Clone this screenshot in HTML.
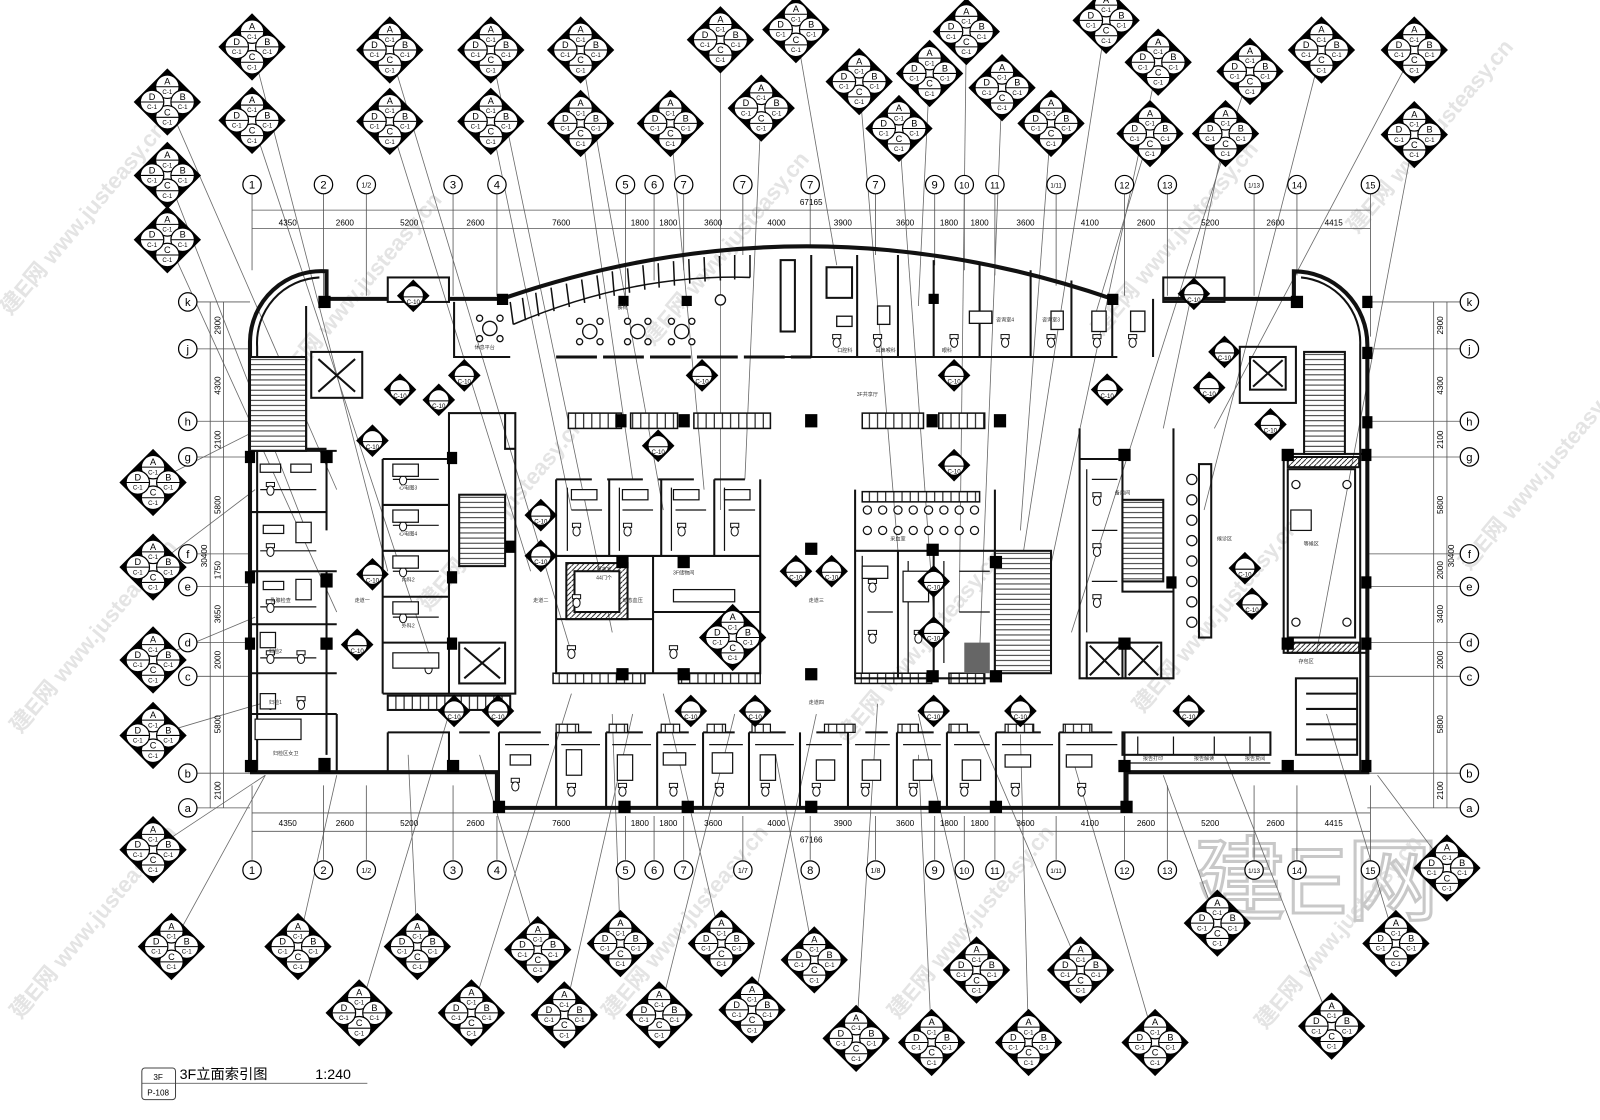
<!DOCTYPE html>
<html><head><meta charset="utf-8">
<style>
html,body{margin:0;padding:0;background:#fff;}
svg{display:block;}
text{font-family:"Liberation Sans","Noto Sans CJK SC",sans-serif;}
</style></head>
<body>
<svg width="1600" height="1120" viewBox="0 0 1568 1098" preserveAspectRatio="none" xmlns="http://www.w3.org/2000/svg">
<defs>
<g id="dm">
<polygon points="0,-33 33,0 0,33 -33,0" fill="#000"/>
<rect x="-6" y="-6" width="12" height="12" fill="#fff" transform="rotate(45)"/>
<g fill="#fff" stroke="#000" stroke-width="1.2">
<circle cx="0" cy="-15" r="11.5"/><circle cx="15" cy="0" r="11.5"/><circle cx="0" cy="15" r="11.5"/><circle cx="-15" cy="0" r="11.5"/>
</g>
<g stroke="#000" stroke-width="1"><line x1="-11" y1="-15" x2="11" y2="-15"/><line x1="4" y1="0" x2="26" y2="0"/><line x1="-11" y1="15" x2="11" y2="15"/><line x1="-26" y1="0" x2="-4" y2="0"/></g>
<g font-size="9" text-anchor="middle"><text x="0" y="-17">A</text><text x="15" y="-2">B</text><text x="0" y="13">C</text><text x="-15" y="-2">D</text></g>
<g font-size="6" text-anchor="middle"><text x="0" y="-8">C-1</text><text x="15" y="7">C-1</text><text x="0" y="22">C-1</text><text x="-15" y="7">C-1</text></g>
</g>
<g id="mk">
<polygon points="0,-16 16,0 0,16 -16,0" fill="#000"/>
<circle r="10" fill="#fff" stroke="#000" stroke-width="1.2"/>
<line x1="-10" y1="1" x2="10" y2="1" stroke="#000" stroke-width="1"/>
<text y="8" font-size="6" text-anchor="middle">C-10</text>
</g>
<g id="wc"><rect x="-4" y="-7" width="8" height="4" fill="#fff" stroke="#111" stroke-width="1"/><ellipse cx="0" cy="1" rx="3.5" ry="4.5" fill="#fff" stroke="#111" stroke-width="1"/></g>
<pattern id="tread" width="6" height="5" patternUnits="userSpaceOnUse"><rect width="6" height="5" fill="#fff"/><line x1="0" y1="2.5" x2="6" y2="2.5" stroke="#000" stroke-width="0.8"/></pattern>
<pattern id="bench" width="8" height="8" patternUnits="userSpaceOnUse"><rect width="8" height="8" fill="#fff"/><line x1="4" y1="0" x2="4" y2="8" stroke="#000" stroke-width="1"/></pattern>
<pattern id="hatch" width="5" height="5" patternUnits="userSpaceOnUse"><line x1="0" y1="5" x2="5" y2="0" stroke="#000" stroke-width="0.8"/></pattern>
</defs>

<g fill="#e4e4e4" font-size="22" font-weight="bold">
<text transform="translate(10,310) rotate(-50)">建E网 www.justeasy.cn</text>
<text transform="translate(20,720) rotate(-50)">建E网 www.justeasy.cn</text>
<text transform="translate(20,1000) rotate(-50)">建E网 www.justeasy.cn</text>
<text transform="translate(280,380) rotate(-50)">建E网 www.justeasy.cn</text>
<text transform="translate(420,600) rotate(-50)">建E网 www.justeasy.cn</text>
<text transform="translate(640,340) rotate(-50)">建E网 www.justeasy.cn</text>
<text transform="translate(830,730) rotate(-50)">建E网 www.justeasy.cn</text>
<text transform="translate(880,1000) rotate(-50)">建E网 www.justeasy.cn</text>
<text transform="translate(1080,330) rotate(-50)">建E网 www.justeasy.cn</text>
<text transform="translate(1120,700) rotate(-50)">建E网 www.justeasy.cn</text>
<text transform="translate(1240,1010) rotate(-50)">建E网 www.justeasy.cn</text>
<text transform="translate(1330,230) rotate(-50)">建E网 www.justeasy.cn</text>
<text transform="translate(1440,560) rotate(-50)">建E网 www.justeasy.cn</text>
<text transform="translate(600,1000) rotate(-50)">建E网 www.justeasy.cn</text>
</g>
<text x="1170" y="895" font-size="90" fill="none" stroke="#c8c8c8" stroke-width="3">建E网</text>

<g stroke="#6a6a6a" stroke-width="0.8">
<line x1="247" y1="46" x2="380" y2="560"/><line x1="164" y1="100" x2="330" y2="480"/><line x1="247" y1="118" x2="420" y2="640"/>
<line x1="164" y1="172" x2="300" y2="520"/><line x1="164" y1="235" x2="330" y2="600"/><line x1="382" y1="49" x2="560" y2="640"/>
<line x1="382" y1="119" x2="520" y2="560"/><line x1="481" y1="49" x2="600" y2="620"/><line x1="481" y1="119" x2="560" y2="500"/>
<line x1="569" y1="49" x2="650" y2="500"/><line x1="569" y1="121" x2="620" y2="470"/><line x1="657" y1="121" x2="690" y2="480"/>
<line x1="706" y1="39" x2="706" y2="500"/><line x1="780" y1="29" x2="820" y2="260"/><line x1="746" y1="106" x2="730" y2="470"/>
<line x1="842" y1="80" x2="880" y2="540"/><line x1="911" y1="72" x2="900" y2="300"/><line x1="881" y1="126" x2="915" y2="600"/>
<line x1="947" y1="31" x2="940" y2="600"/><line x1="982" y1="86" x2="960" y2="640"/><line x1="1030" y1="121" x2="1000" y2="520"/>
<line x1="1084" y1="20" x2="1000" y2="560"/><line x1="1135" y1="61" x2="1020" y2="600"/><line x1="1127" y1="131" x2="1070" y2="320"/>
<line x1="1225" y1="70" x2="1050" y2="620"/><line x1="1201" y1="131" x2="1140" y2="420"/><line x1="1295" y1="49" x2="1180" y2="500"/>
<line x1="1386" y1="49" x2="1190" y2="420"/><line x1="1386" y1="132" x2="1290" y2="640"/>
<line x1="150" y1="473" x2="255" y2="420"/><line x1="150" y1="556" x2="250" y2="480"/><line x1="150" y1="647" x2="250" y2="605"/>
<line x1="150" y1="721" x2="255" y2="690"/><line x1="150" y1="833" x2="260" y2="760"/>
<line x1="168" y1="928" x2="260" y2="760"/><line x1="292" y1="928" x2="330" y2="760"/><line x1="409" y1="928" x2="400" y2="740"/>
<line x1="527" y1="931" x2="470" y2="740"/><line x1="608" y1="925" x2="600" y2="700"/><line x1="707" y1="925" x2="650" y2="680"/>
<line x1="798" y1="941" x2="760" y2="740"/><line x1="957" y1="951" x2="900" y2="700"/><line x1="1059" y1="951" x2="960" y2="720"/>
<line x1="1193" y1="905" x2="1140" y2="760"/><line x1="1368" y1="925" x2="1300" y2="700"/><line x1="352" y1="993" x2="440" y2="700"/>
<line x1="462" y1="993" x2="560" y2="680"/><line x1="553" y1="995" x2="620" y2="700"/><line x1="646" y1="995" x2="720" y2="700"/>
<line x1="737" y1="990" x2="800" y2="700"/><line x1="839" y1="1018" x2="860" y2="690"/><line x1="913" y1="1022" x2="900" y2="740"/>
<line x1="1008" y1="1022" x2="1000" y2="720"/><line x1="1132" y1="1022" x2="1050" y2="740"/><line x1="1305" y1="1006" x2="1200" y2="740"/>
<line x1="1418" y1="851" x2="1350" y2="760"/>
</g>

<g stroke="#555" stroke-width="0.8" fill="none">
<path d="M247 190V265M317 190V290M359 190V290M444 190V290M487 190V290M613 190V290M641 190V275M670 190V265M728 190V250M794 190V240M858 190V250M916 190V260M945 190V265M975 190V270M1035 190V280M1102 190V290M1144 190V290M1229 190V290M1271 190V270M1343 190V330"/>
<path d="M247 770V843M317 770V843M359 770V843M444 770V843M487 800V843M613 800V843M641 800V843M670 800V843M728 800V843M794 800V843M858 800V843M916 800V843M945 800V843M975 800V843M1035 800V843M1102 800V843M1144 770V843M1229 770V843M1271 770V843M1343 770V843"/>
<line x1="247" y1="206" x2="1343" y2="206"/><line x1="247" y1="224" x2="1343" y2="224"/>
<line x1="247" y1="797" x2="1343" y2="797"/><line x1="247" y1="815" x2="1343" y2="815"/>
<line x1="206" y1="296" x2="206" y2="792"/><line x1="219" y1="296" x2="219" y2="792"/>
<line x1="1405" y1="296" x2="1405" y2="792"/><line x1="1418" y1="296" x2="1418" y2="792"/>
<path d="M193 296H245M193 342H245M193 413H245M193 448H245M193 543H245M193 575H245M193 630H245M193 663H245M193 758H245M193 792H245"/>
<path d="M1340 296H1431M1340 342H1431M1340 413H1431M1340 448H1431M1340 543H1431M1340 575H1431M1340 630H1431M1340 663H1431M1340 758H1431M1340 792H1431"/>
</g>
<g font-size="8" text-anchor="middle">
<text x="795" y="201">67165</text><text x="795" y="826">67166</text>
<text x="282" y="221">4350</text><text x="338" y="221">2600</text><text x="401" y="221">5200</text><text x="466" y="221">2600</text><text x="550" y="221">7600</text><text x="627" y="221">1800</text><text x="655" y="221">1800</text><text x="699" y="221">3600</text><text x="761" y="221">4000</text><text x="826" y="221">3900</text><text x="887" y="221">3600</text><text x="930" y="221">1800</text><text x="960" y="221">1800</text><text x="1005" y="221">3600</text><text x="1068" y="221">4100</text><text x="1123" y="221">2600</text><text x="1186" y="221">5200</text><text x="1250" y="221">2600</text><text x="1307" y="221">4415</text>
<text x="282" y="810">4350</text><text x="338" y="810">2600</text><text x="401" y="810">5200</text><text x="466" y="810">2600</text><text x="550" y="810">7600</text><text x="627" y="810">1800</text><text x="655" y="810">1800</text><text x="699" y="810">3600</text><text x="761" y="810">4000</text><text x="826" y="810">3900</text><text x="887" y="810">3600</text><text x="930" y="810">1800</text><text x="960" y="810">1800</text><text x="1005" y="810">3600</text><text x="1068" y="810">4100</text><text x="1123" y="810">2600</text><text x="1186" y="810">5200</text><text x="1250" y="810">2600</text><text x="1307" y="810">4415</text>
</g>
<g font-size="8" text-anchor="middle">
<text transform="translate(216,319) rotate(-90)">2900</text><text transform="translate(216,378) rotate(-90)">4300</text><text transform="translate(216,431) rotate(-90)">2100</text><text transform="translate(216,495) rotate(-90)">5800</text><text transform="translate(216,559) rotate(-90)">1750</text><text transform="translate(216,602) rotate(-90)">3650</text><text transform="translate(216,647) rotate(-90)">2000</text><text transform="translate(216,710) rotate(-90)">5800</text><text transform="translate(216,775) rotate(-90)">2100</text><text transform="translate(203,545) rotate(-90)">30400</text>
<text transform="translate(1414,319) rotate(-90)">2900</text><text transform="translate(1414,378) rotate(-90)">4300</text><text transform="translate(1414,431) rotate(-90)">2100</text><text transform="translate(1414,495) rotate(-90)">5800</text><text transform="translate(1414,559) rotate(-90)">2000</text><text transform="translate(1414,602) rotate(-90)">3400</text><text transform="translate(1414,647) rotate(-90)">2000</text><text transform="translate(1414,710) rotate(-90)">5800</text><text transform="translate(1414,775) rotate(-90)">2100</text><text transform="translate(1425,545) rotate(-90)">30400</text>
</g>

<g fill="#fff" stroke="#000" stroke-width="1.2">
<circle cx="247" cy="181" r="9"/><circle cx="317" cy="181" r="9"/><circle cx="359" cy="181" r="9"/><circle cx="444" cy="181" r="9"/><circle cx="487" cy="181" r="9"/><circle cx="613" cy="181" r="9"/><circle cx="641" cy="181" r="9"/><circle cx="670" cy="181" r="9"/><circle cx="728" cy="181" r="9"/><circle cx="794" cy="181" r="9"/><circle cx="858" cy="181" r="9"/><circle cx="916" cy="181" r="9"/><circle cx="945" cy="181" r="9"/><circle cx="975" cy="181" r="9"/><circle cx="1035" cy="181" r="9"/><circle cx="1102" cy="181" r="9"/><circle cx="1144" cy="181" r="9"/><circle cx="1229" cy="181" r="9"/><circle cx="1271" cy="181" r="9"/><circle cx="1343" cy="181" r="9"/>
<circle cx="247" cy="853" r="9"/><circle cx="317" cy="853" r="9"/><circle cx="359" cy="853" r="9"/><circle cx="444" cy="853" r="9"/><circle cx="487" cy="853" r="9"/><circle cx="613" cy="853" r="9"/><circle cx="641" cy="853" r="9"/><circle cx="670" cy="853" r="9"/><circle cx="728" cy="853" r="9"/><circle cx="794" cy="853" r="9"/><circle cx="858" cy="853" r="9"/><circle cx="916" cy="853" r="9"/><circle cx="945" cy="853" r="9"/><circle cx="975" cy="853" r="9"/><circle cx="1035" cy="853" r="9"/><circle cx="1102" cy="853" r="9"/><circle cx="1144" cy="853" r="9"/><circle cx="1229" cy="853" r="9"/><circle cx="1271" cy="853" r="9"/><circle cx="1343" cy="853" r="9"/>
<circle cx="184" cy="296" r="9"/><circle cx="184" cy="342" r="9"/><circle cx="184" cy="413" r="9"/><circle cx="184" cy="448" r="9"/><circle cx="184" cy="543" r="9"/><circle cx="184" cy="575" r="9"/><circle cx="184" cy="630" r="9"/><circle cx="184" cy="663" r="9"/><circle cx="184" cy="758" r="9"/><circle cx="184" cy="792" r="9"/>
<circle cx="1440" cy="296" r="9"/><circle cx="1440" cy="342" r="9"/><circle cx="1440" cy="413" r="9"/><circle cx="1440" cy="448" r="9"/><circle cx="1440" cy="543" r="9"/><circle cx="1440" cy="575" r="9"/><circle cx="1440" cy="630" r="9"/><circle cx="1440" cy="663" r="9"/><circle cx="1440" cy="758" r="9"/><circle cx="1440" cy="792" r="9"/>
</g>
<g font-size="11" text-anchor="middle">
<text x="247" y="185">1</text><text x="317" y="185">2</text><text x="359" y="184" font-size="7">1/2</text><text x="444" y="185">3</text><text x="487" y="185">4</text><text x="613" y="185">5</text><text x="641" y="185">6</text><text x="670" y="185">7</text><text x="728" y="185">7</text><text x="794" y="185">7</text><text x="858" y="185">7</text><text x="916" y="185">9</text><text x="945" y="185" font-size="9">10</text><text x="975" y="185" font-size="9">11</text><text x="1035" y="184" font-size="6">1/11</text><text x="1102" y="185" font-size="9">12</text><text x="1144" y="185" font-size="9">13</text><text x="1229" y="184" font-size="6">1/13</text><text x="1271" y="185" font-size="9">14</text><text x="1343" y="185" font-size="9">15</text>
<text x="247" y="857">1</text><text x="317" y="857">2</text><text x="359" y="856" font-size="7">1/2</text><text x="444" y="857">3</text><text x="487" y="857">4</text><text x="613" y="857">5</text><text x="641" y="857">6</text><text x="670" y="857">7</text><text x="728" y="856" font-size="7">1/7</text><text x="794" y="857">8</text><text x="858" y="856" font-size="7">1/8</text><text x="916" y="857">9</text><text x="945" y="857" font-size="9">10</text><text x="975" y="857" font-size="9">11</text><text x="1035" y="856" font-size="6">1/11</text><text x="1102" y="857" font-size="9">12</text><text x="1144" y="857" font-size="9">13</text><text x="1229" y="856" font-size="6">1/13</text><text x="1271" y="857" font-size="9">14</text><text x="1343" y="857" font-size="9">15</text>
<text x="184" y="300">k</text><text x="184" y="346">j</text><text x="184" y="417">h</text><text x="184" y="452">g</text><text x="184" y="547">f</text><text x="184" y="579">e</text><text x="184" y="634">d</text><text x="184" y="667">c</text><text x="184" y="762">b</text><text x="184" y="796">a</text>
<text x="1440" y="300">k</text><text x="1440" y="346">j</text><text x="1440" y="417">h</text><text x="1440" y="452">g</text><text x="1440" y="547">f</text><text x="1440" y="579">e</text><text x="1440" y="634">d</text><text x="1440" y="667">c</text><text x="1440" y="762">b</text><text x="1440" y="796">a</text>
</g>

<!-- PLAN -->
<g fill="none" stroke="#111" stroke-width="4">
<path d="M245 757 V335 A70 70 0 0 1 320 266 V293 H380 M440 293 H492"/>
<path d="M492 293 Q790 190 1090 293"/>
<path d="M1140 293 H1268 V266 A72 72 0 0 1 1340 338 V757 H1104 V792 H487 V757 H245"/>
</g>
<g fill="none" stroke="#111" stroke-width="2">
<path d="M252 757 V340 A64 64 0 0 1 313 272"/>
<path d="M1275 272 A64 64 0 0 1 1333 338 V757"/>
<rect x="380" y="272" width="60" height="24"/><rect x="1140" y="272" width="60" height="24"/>
</g>
<g stroke="#111" stroke-width="1.5" fill="#fff">
<path d="M500 296 L503 318 M512 292 L515 314 M525 287 L528 310 M540 282 L543 305 M555 278 L558 301 M570 274 L573 297 M585 270 L588 293 M600 266 L602 290 M615 263 L617 287 M630 260 L632 284 M645 258 L646 282 M660 256 L661 280 M675 254 L676 278 M690 252 L691 276 M705 251 L706 275 M720 250 L720 274 M735 250 L735 272" fill="none"/>
<path d="M503 318 Q620 268 735 272" fill="none"/>
</g>
<g stroke="#111" stroke-width="2" fill="none">
<rect x="245" y="350" width="55" height="92" fill="url(#tread)"/>
<rect x="305" y="345" width="50" height="45"/><path d="M312 352 L348 384 M348 352 L312 384"/>
<path d="M300 300 V440 H320 M245 442 H330 M245 502 H320 M245 560 H330 M245 612 H330 M245 660 H330 M245 700 H330"/>
<path d="M320 442 V520 M320 560 V740 M330 700 V757"/>
<path d="M375 450 H440 M375 495 H440 M375 540 H440 M375 585 H440 M375 630 H440 M375 680 H440 M375 450 V680"/>
<rect x="440" y="405" width="65" height="275"/>
<rect x="450" y="485" width="45" height="70" fill="url(#tread)"/>
<rect x="450" y="630" width="45" height="40"/><path d="M455 635 L490 665 M490 635 L455 665"/>
<path d="M495 405 V440 H505"/>
<rect x="380" y="682" width="120" height="14" fill="url(#bench)"/>
</g>
<g stroke="#111" stroke-width="2" fill="none">
<path d="M445 296 V350 H500"/>
<path d="M545 350 H795" stroke-width="3" stroke-dasharray="40 6"/>
<path d="M740 350 H1095 M795 250 V350 M840 250 V350 M880 250 V350 M915 255 V350 M960 258 V350 M1010 265 V350 M1050 275 V350 M1090 290 V350 M1130 293 V350"/>
<rect x="810" y="262" width="25" height="30"/><rect x="765" y="255" width="14" height="70"/>
</g>
<g fill="#fff" stroke="#111" stroke-width="1.3">
<circle cx="480" cy="322" r="7"/><circle cx="578" cy="325" r="7"/><circle cx="625" cy="325" r="7"/><circle cx="668" cy="325" r="7"/>
<circle cx="470" cy="312" r="3"/><circle cx="490" cy="312" r="3"/><circle cx="470" cy="332" r="3"/><circle cx="490" cy="332" r="3"/>
<circle cx="568" cy="315" r="3"/><circle cx="588" cy="315" r="3"/><circle cx="568" cy="335" r="3"/><circle cx="588" cy="335" r="3"/>
<circle cx="615" cy="315" r="3"/><circle cx="635" cy="315" r="3"/><circle cx="615" cy="335" r="3"/><circle cx="635" cy="335" r="3"/>
<circle cx="658" cy="315" r="3"/><circle cx="678" cy="315" r="3"/><circle cx="658" cy="335" r="3"/><circle cx="678" cy="335" r="3"/>
<circle cx="706" cy="294" r="5"/>
<rect x="820" y="310" width="15" height="10"/><rect x="860" y="300" width="12" height="18"/><rect x="950" y="305" width="22" height="12"/><rect x="1030" y="305" width="12" height="18"/><rect x="1070" y="305" width="14" height="20"/><rect x="1108" y="305" width="14" height="20"/>
</g>
<g stroke="#111" stroke-width="1.5" fill="url(#bench)">
<rect x="557" y="405" width="52" height="15"/><rect x="618" y="405" width="46" height="15"/><rect x="680" y="405" width="75" height="15"/>
<rect x="845" y="405" width="60" height="15"/><rect x="920" y="405" width="45" height="15"/>
<rect x="542" y="660" width="90" height="10"/><rect x="665" y="660" width="80" height="10"/><rect x="838" y="660" width="75" height="10"/><rect x="930" y="660" width="35" height="10"/>
<rect x="845" y="482" width="115" height="10"/>
</g>
<g stroke="#111" stroke-width="2" fill="none">
<path d="M545 470 V660 H745 V470 M545 470 H580 M595 470 H630 M645 470 H680 M700 470 H730"/>
<path d="M597 470 V545 M648 470 V545 M700 470 V545 M545 545 H745"/>
<rect x="555" y="552" width="60" height="55" fill="url(#hatch)"/><rect x="563" y="560" width="44" height="40" fill="#fff"/>
<path d="M640 545 V660 M545 607 H640 M640 600 H745"/>
<path d="M838 480 V665 H975 M838 540 H975 M880 540 V665 M915 540 V660 M975 480 V665"/>
<rect x="975" y="540" width="55" height="120" fill="url(#tread)"/>
<path d="M1058 420 V665 H1150 V420 M1058 450 H1100 M1100 450 V580 H1150"/>
<rect x="1100" y="490" width="40" height="80" fill="url(#tread)"/>
<rect x="1065" y="630" width="35" height="35"/><path d="M1068 633 L1097 662 M1097 633 L1068 662"/>
<rect x="1103" y="630" width="35" height="35"/><path d="M1106 633 L1135 662 M1135 633 L1106 662"/>
<rect x="1175" y="455" width="12" height="170"/>
<rect x="1258" y="445" width="82" height="195"/><rect x="1262" y="460" width="66" height="165"/>
<rect x="1262" y="448" width="70" height="10" fill="url(#hatch)"/><rect x="1262" y="630" width="70" height="10" fill="url(#hatch)"/>
<rect x="1215" y="340" width="55" height="55"/>
<rect x="1225" y="350" width="35" height="32"/><path d="M1228 353 L1257 379 M1257 353 L1228 379"/>
<rect x="1278" y="345" width="40" height="100" fill="url(#tread)"/>
<rect x="1270" y="665" width="60" height="75"/>
<rect x="1100" y="718" width="145" height="22"/>
<path d="M1280 680 H1330 M1280 695 H1330 M1280 710 H1330 M1280 725 H1330"/>
</g>
<!-- extra detail -->
<g stroke="#111" stroke-width="1.2" fill="none">
<path d="M556 478 V540 M607 478 V540 M658 478 V540 M710 478 V540 M560 500 H590 M610 500 H640 M662 500 H692 M714 500 H740"/>
<path d="M845 545 V660 M890 550 V660 M850 600 H875 M925 550 V650 M940 560 H970 M940 600 H970"/>
<path d="M1065 460 V620 M1070 470 H1095 M1070 520 H1095 M1070 570 H1095"/>
<path d="M385 470 H430 M385 515 H430 M385 560 H430 M385 605 H430"/>
<path d="M255 480 H310 M255 540 H310 M255 595 H310 M255 645 H310"/>
<path d="M1105 748 H1245 M1115 722 V740 M1150 722 V740 M1190 722 V740 M1225 722 V740"/>
<path d="M495 730 H538 M550 730 H588 M600 730 H638 M650 730 H682 M695 730 H728 M740 730 H778 M790 730 H825 M838 730 H872 M885 730 H922 M935 730 H970 M982 730 H1032 M1045 730 H1095"/>
</g>
<g>
<use href="#wc" x="565" y="520"/><use href="#wc" x="615" y="520"/><use href="#wc" x="668" y="520"/><use href="#wc" x="720" y="520"/>
<use href="#wc" x="565" y="590"/><use href="#wc" x="660" y="640"/><use href="#wc" x="710" y="640"/><use href="#wc" x="560" y="640"/>
<use href="#wc" x="265" y="480"/><use href="#wc" x="265" y="540"/><use href="#wc" x="265" y="595"/><use href="#wc" x="265" y="645"/><use href="#wc" x="295" y="645"/><use href="#wc" x="265" y="690"/><use href="#wc" x="295" y="690"/>
<use href="#wc" x="395" y="470"/><use href="#wc" x="395" y="515"/><use href="#wc" x="395" y="560"/><use href="#wc" x="395" y="605"/><use href="#wc" x="420" y="655"/>
<use href="#wc" x="505" y="770"/><use href="#wc" x="560" y="775"/><use href="#wc" x="610" y="775"/><use href="#wc" x="660" y="775"/><use href="#wc" x="705" y="775"/><use href="#wc" x="750" y="775"/><use href="#wc" x="800" y="775"/><use href="#wc" x="848" y="775"/><use href="#wc" x="895" y="775"/><use href="#wc" x="945" y="775"/><use href="#wc" x="995" y="775"/><use href="#wc" x="1060" y="775"/>
<use href="#wc" x="855" y="575"/><use href="#wc" x="855" y="625"/><use href="#wc" x="900" y="625"/><use href="#wc" x="1075" y="490"/><use href="#wc" x="1075" y="540"/><use href="#wc" x="1075" y="590"/>
<use href="#wc" x="820" y="335"/><use href="#wc" x="860" y="335"/><use href="#wc" x="935" y="335"/><use href="#wc" x="985" y="335"/><use href="#wc" x="1030" y="335"/><use href="#wc" x="1075" y="335"/><use href="#wc" x="1110" y="335"/>
</g>
<g fill="#fff" stroke="#111" stroke-width="1.2">
<circle cx="1168" cy="470" r="5"/><circle cx="1168" cy="490" r="5"/><circle cx="1168" cy="510" r="5"/><circle cx="1168" cy="530" r="5"/><circle cx="1168" cy="550" r="5"/><circle cx="1168" cy="570" r="5"/><circle cx="1168" cy="590" r="5"/><circle cx="1168" cy="610" r="5"/>
<circle cx="850" cy="500" r="4"/><circle cx="865" cy="500" r="4"/><circle cx="880" cy="500" r="4"/><circle cx="895" cy="500" r="4"/><circle cx="910" cy="500" r="4"/><circle cx="925" cy="500" r="4"/><circle cx="940" cy="500" r="4"/><circle cx="955" cy="500" r="4"/>
<circle cx="850" cy="520" r="4"/><circle cx="865" cy="520" r="4"/><circle cx="880" cy="520" r="4"/><circle cx="895" cy="520" r="4"/><circle cx="910" cy="520" r="4"/><circle cx="925" cy="520" r="4"/><circle cx="940" cy="520" r="4"/><circle cx="955" cy="520" r="4"/>
<rect x="1265" y="500" width="20" height="20"/>
<circle cx="1270" cy="475" r="4"/><circle cx="1320" cy="475" r="4"/><circle cx="1270" cy="610" r="4"/><circle cx="1320" cy="610" r="4"/>
</g>
<g stroke="#111" stroke-width="1.2" fill="#fff">
<rect x="255" y="455" width="20" height="8"/><rect x="285" y="455" width="20" height="8"/><rect x="258" y="515" width="20" height="8"/><rect x="290" y="512" width="15" height="20"/>
<rect x="258" y="570" width="20" height="8"/><rect x="290" y="568" width="15" height="20"/><rect x="255" y="620" width="15" height="15"/><rect x="255" y="680" width="15" height="15"/>
<rect x="250" y="705" width="45" height="20"/>
<rect x="385" y="455" width="25" height="12"/><rect x="385" y="500" width="25" height="12"/><rect x="385" y="545" width="25" height="12"/><rect x="385" y="590" width="25" height="12"/><rect x="385" y="640" width="45" height="15"/>
<rect x="560" y="480" width="25" height="10"/><rect x="610" y="480" width="25" height="10"/><rect x="660" y="480" width="25" height="10"/><rect x="710" y="480" width="25" height="10"/>
<rect x="660" y="578" width="60" height="12"/><rect x="845" y="555" width="25" height="12"/><rect x="885" y="560" width="25" height="30"/>
</g>
<g stroke="#111" stroke-width="2" fill="none">
<path d="M380 718 H440 V757 M380 718 V757 M450 718 H480 M489 718 V792 M545 718 V792 M594 718 V792 M644 718 V792 M689 718 V792 M734 718 V792 M784 718 V792 M831 718 V792 M879 718 V792 M928 718 V792 M976 718 V792 M1038 718 V792 M1102 718 V792"/>
<path d="M489 718 H530 M545 718 H580 M594 718 H630 M644 718 H675 M689 718 H720 M734 718 H770 M800 718 H830 M848 718 H870 M879 718 H915 M928 718 H960 M976 718 H1020 M1038 718 H1090"/>
</g>
<g stroke="#111" stroke-width="1.2" fill="url(#bench)">
<rect x="545" y="710" width="22" height="8"/><rect x="597" y="710" width="18" height="8"/><rect x="648" y="710" width="18" height="8"/><rect x="693" y="710" width="18" height="8"/><rect x="737" y="710" width="18" height="8"/><rect x="808" y="710" width="30" height="8"/><rect x="880" y="710" width="20" height="8"/><rect x="930" y="710" width="18" height="8"/><rect x="985" y="710" width="28" height="8"/><rect x="1042" y="710" width="28" height="8"/>
</g>
<g stroke="#111" stroke-width="1.2" fill="#fff">
<rect x="500" y="740" width="20" height="10"/><rect x="555" y="735" width="15" height="25"/><rect x="605" y="740" width="15" height="25"/><rect x="650" y="738" width="22" height="12"/><rect x="698" y="738" width="20" height="20"/><rect x="745" y="740" width="15" height="25"/><rect x="800" y="745" width="18" height="20"/><rect x="845" y="745" width="18" height="20"/><rect x="895" y="745" width="18" height="20"/><rect x="943" y="745" width="18" height="20"/><rect x="985" y="740" width="25" height="12"/><rect x="1045" y="740" width="25" height="12"/>
</g>
<g fill="#000">
<rect x="312" y="290" width="12" height="12"/><rect x="487" y="288" width="11" height="11"/><rect x="606" y="290" width="10" height="10"/><rect x="668" y="290" width="10" height="10"/><rect x="910" y="288" width="10" height="10"/><rect x="1085" y="288" width="11" height="11"/><rect x="1265" y="290" width="12" height="12"/>
<rect x="603" y="406" width="11" height="13"/><rect x="665" y="406" width="11" height="13"/><rect x="789" y="406" width="12" height="13"/><rect x="908" y="406" width="11" height="13"/><rect x="974" y="406" width="12" height="13"/>
<rect x="240" y="442" width="10" height="12"/><rect x="314" y="442" width="12" height="12"/><rect x="240" y="560" width="10" height="12"/><rect x="314" y="562" width="12" height="14"/><rect x="240" y="625" width="10" height="12"/><rect x="314" y="625" width="12" height="12"/><rect x="240" y="745" width="12" height="12"/><rect x="312" y="743" width="12" height="14"/>
<rect x="438" y="443" width="10" height="12"/><rect x="438" y="560" width="10" height="12"/><rect x="438" y="625" width="10" height="12"/><rect x="438" y="745" width="12" height="12"/><rect x="495" y="530" width="10" height="12"/>
<rect x="604" y="545" width="12" height="12"/><rect x="664" y="545" width="12" height="12"/><rect x="789" y="532" width="12" height="12"/><rect x="604" y="655" width="12" height="12"/><rect x="664" y="655" width="12" height="12"/><rect x="789" y="655" width="12" height="12"/>
<rect x="908" y="533" width="12" height="12"/><rect x="970" y="545" width="12" height="12"/><rect x="908" y="657" width="12" height="12"/><rect x="970" y="657" width="12" height="12"/>
<rect x="1096" y="440" width="12" height="12"/><rect x="1096" y="625" width="12" height="12"/><rect x="1143" y="565" width="10" height="12"/>
<rect x="1256" y="440" width="12" height="12"/><rect x="1334" y="440" width="10" height="12"/><rect x="1334" y="565" width="10" height="12"/><rect x="1256" y="625" width="12" height="12"/><rect x="1334" y="625" width="10" height="12"/><rect x="1096" y="745" width="12" height="12"/><rect x="1256" y="745" width="12" height="12"/><rect x="1334" y="745" width="10" height="12"/>
<rect x="483" y="785" width="12" height="12"/><rect x="606" y="785" width="12" height="12"/><rect x="668" y="785" width="12" height="12"/><rect x="789" y="785" width="12" height="12"/><rect x="910" y="785" width="12" height="12"/><rect x="970" y="785" width="12" height="12"/><rect x="1098" y="785" width="12" height="12"/>
<rect x="1335" y="290" width="10" height="12"/><rect x="1335" y="340" width="10" height="12"/><rect x="1335" y="408" width="10" height="12"/>
<rect x="945" y="630" width="25" height="30" fill="#666"/>
</g>
<g font-size="5" fill="#333" text-anchor="middle">
<text x="610" y="303">餐椅</text><text x="475" y="342">休息平台</text><text x="828" y="345">口腔科</text><text x="868" y="345">耳鼻喉科</text><text x="928" y="345">眼科</text><text x="985" y="315">咨询室4</text><text x="1030" y="315">咨询室3</text>
<text x="850" y="388">3F共享厅</text><text x="592" y="560">更衣室</text><text x="592" y="568">44门个</text><text x="670" y="563">3F储物间</text><text x="620" y="590">动态血压</text>
<text x="880" y="530">采血室</text><text x="1200" y="530">候诊区</text><text x="1285" y="535">等候区</text><text x="1280" y="650">存包区</text><text x="1100" y="485">备用间</text>
<text x="530" y="590">走道二</text><text x="800" y="590">走道三</text><text x="800" y="690">走道四</text><text x="355" y="590">走道一</text>
<text x="275" y="590">乳腺检查</text><text x="270" y="640">妇检2</text><text x="270" y="690">妇检1</text><text x="280" y="740">妇检区女卫</text>
<text x="400" y="480">心电图3</text><text x="400" y="525">心电图4</text><text x="400" y="570">内科2</text><text x="400" y="615">外科2</text>
<text x="1130" y="745">报告打印</text><text x="1180" y="745">报告解读</text><text x="1230" y="745">报告复阅</text>
</g>
<g>
<use href="#mk" x="455" y="368"/><use href="#mk" x="688" y="368"/><use href="#mk" x="935" y="368"/><use href="#mk" x="392" y="382"/><use href="#mk" x="430" y="392"/>
<use href="#mk" x="365" y="432"/><use href="#mk" x="530" y="505"/><use href="#mk" x="530" y="545"/><use href="#mk" x="365" y="563"/><use href="#mk" x="350" y="632"/>
<use href="#mk" x="445" y="697"/><use href="#mk" x="488" y="697"/><use href="#mk" x="677" y="697"/><use href="#mk" x="740" y="697"/><use href="#mk" x="645" y="437"/>
<use href="#mk" x="1085" y="382"/><use href="#mk" x="1200" y="345"/><use href="#mk" x="1185" y="380"/><use href="#mk" x="1245" y="416"/><use href="#mk" x="935" y="456"/>
<use href="#mk" x="780" y="560"/><use href="#mk" x="815" y="560"/><use href="#mk" x="1220" y="557"/><use href="#mk" x="1227" y="592"/><use href="#mk" x="915" y="697"/>
<use href="#mk" x="1000" y="697"/><use href="#mk" x="1165" y="697"/><use href="#mk" x="915" y="570"/><use href="#mk" x="915" y="620"/><use href="#mk" x="405" y="290"/><use href="#mk" x="1170" y="288"/>
</g>
<use href="#dm" x="718" y="625"/>

<g>
<use href="#dm" x="247" y="46"/><use href="#dm" x="164" y="100"/><use href="#dm" x="247" y="118"/><use href="#dm" x="164" y="172"/><use href="#dm" x="164" y="235"/>
<use href="#dm" x="382" y="49"/><use href="#dm" x="382" y="119"/><use href="#dm" x="481" y="49"/><use href="#dm" x="481" y="119"/><use href="#dm" x="569" y="49"/><use href="#dm" x="569" y="121"/>
<use href="#dm" x="657" y="121"/><use href="#dm" x="706" y="39"/><use href="#dm" x="780" y="29"/><use href="#dm" x="746" y="106"/><use href="#dm" x="842" y="80"/><use href="#dm" x="911" y="72"/>
<use href="#dm" x="881" y="126"/><use href="#dm" x="947" y="31"/><use href="#dm" x="982" y="86"/><use href="#dm" x="1030" y="121"/><use href="#dm" x="1084" y="20"/><use href="#dm" x="1135" y="61"/>
<use href="#dm" x="1127" y="131"/><use href="#dm" x="1225" y="70"/><use href="#dm" x="1201" y="131"/><use href="#dm" x="1295" y="49"/><use href="#dm" x="1386" y="49"/><use href="#dm" x="1386" y="132"/>
<use href="#dm" x="150" y="473"/><use href="#dm" x="150" y="556"/><use href="#dm" x="150" y="647"/><use href="#dm" x="150" y="721"/><use href="#dm" x="150" y="833"/>
<use href="#dm" x="168" y="928"/><use href="#dm" x="292" y="928"/><use href="#dm" x="409" y="928"/><use href="#dm" x="527" y="931"/><use href="#dm" x="608" y="925"/><use href="#dm" x="707" y="925"/>
<use href="#dm" x="798" y="941"/><use href="#dm" x="957" y="951"/><use href="#dm" x="1059" y="951"/><use href="#dm" x="1193" y="905"/><use href="#dm" x="1368" y="925"/><use href="#dm" x="1418" y="851"/>
<use href="#dm" x="352" y="993"/><use href="#dm" x="462" y="993"/><use href="#dm" x="553" y="995"/><use href="#dm" x="646" y="995"/><use href="#dm" x="737" y="990"/>
<use href="#dm" x="839" y="1018"/><use href="#dm" x="913" y="1022"/><use href="#dm" x="1008" y="1022"/><use href="#dm" x="1132" y="1022"/><use href="#dm" x="1305" y="1006"/>
</g>

<rect x="139" y="1047" width="33" height="31" rx="3" fill="none" stroke="#444" stroke-width="1"/>
<line x1="139" y1="1062" x2="172" y2="1062" stroke="#444" stroke-width="0.8"/>
<text x="155" y="1059" font-size="8" text-anchor="middle">3F</text>
<text x="155" y="1074" font-size="8" text-anchor="middle">P-108</text>
<text x="176" y="1058" font-size="14">3F立面索引图</text>
<text x="309" y="1058" font-size="14">1:240</text>
<line x1="172" y1="1062" x2="360" y2="1062" stroke="#444" stroke-width="0.8"/>
</svg>
</body></html>
